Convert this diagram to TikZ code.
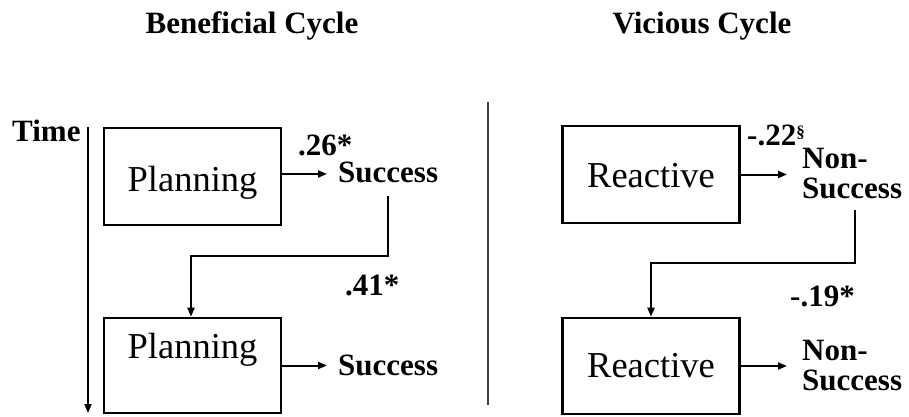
\documentclass[tikz,border=0pt]{standalone}
\usepackage{fontspec}
\setmainfont{Liberation Serif}
\usetikzlibrary{arrows.meta}
\begin{document}
\begin{tikzpicture}[x=1pt,y=-1pt,
  box/.style={draw,line width=2.6pt,minimum width=177pt,inner sep=0pt},
  boxtext/.style={font=\fontsize{36.5}{40}\selectfont,inner sep=0pt,anchor=base},
  lbl/.style={font=\fontsize{31}{30}\selectfont\bfseries,inner sep=0pt,anchor=base west},
  outcome/.style={font=\fontsize{31}{30}\selectfont\bfseries,inner sep=0pt,anchor=base west,
    text width=102pt,align=left},
  title/.style={font=\fontsize{31}{30}\selectfont\bfseries,inner sep=0pt,anchor=base},
  arr/.style={line width=2pt,-{Triangle[length=9pt,width=7pt]}},
  link/.style={line width=2pt}]
\useasboundingbox (0,0) rectangle (909,417);

% headings
\node[title] (tb) at (252,33.5) {Beneficial Cycle};
\node[title] (tv) at (702,33.5) {Vicious Cycle};

% time axis and panel divider
\node[lbl] (time) at (12,141.7) {Time};
\coordinate (t0) at (88,127);
\coordinate (t1) at (88,413);
\draw[arr] (t0) -- (t1);
\coordinate (d0) at (488,102);
\coordinate (d1) at (488,405);
\draw[line width=1.5pt,black!75] (d0) -- (d1);

% beneficial cycle
\node[box,minimum height=97pt] (b1) at (192.5,176.5) {};
\node[box,minimum height=95pt] (b2) at (192.5,365.5) {};
\node[boxtext] (p1) at (192.5,191.7) {Planning};
\node[boxtext] (p2) at (192.5,358) {Planning};
\node[lbl] (s1) at (338,182) {Success};
\node[lbl] (s2) at (338,375) {Success};
\node[lbl] (c1) at (298,155) {.26*};
\node[lbl] (c2) at (345,295) {.41*};
\draw[arr] ([yshift=2.5pt]b1.east) -- ([yshift=2.5pt]b1.east -| 327,0);
\draw[arr] (b2.east) -- (b2.east -| 327,0);
\draw[arr] ([yshift=-13pt]s1.south) |- (191,256) -- (b2.north -| 191,0);

% vicious cycle
\node[box,minimum height=97pt] (r1) at (651,174.5) {};
\node[box,minimum height=96pt] (r2) at (651,366) {};
\node[boxtext] (q1) at (651,187) {Reactive};
\node[boxtext] (q2) at (651,377.7) {Reactive};
\node[outcome] (n1) at (802,168.3) {Non-\\Success};
\node[outcome] (n2) at (802,360) {Non-\\Success};
\node[lbl] (c3) at (747,145.7) {-.22\raisebox{8pt}{\fontsize{17}{17}\selectfont\S}};
\node[lbl] (c4) at (790,306.7) {-.19*};
\draw[arr] (r1.east) -- (r1.east -| 787,0);
\draw[arr] (r2.east) -- (r2.east -| 787,0);
\draw[arr] (855,210) |- (651,263) -- (r2.north);
\end{tikzpicture}
\end{document}
